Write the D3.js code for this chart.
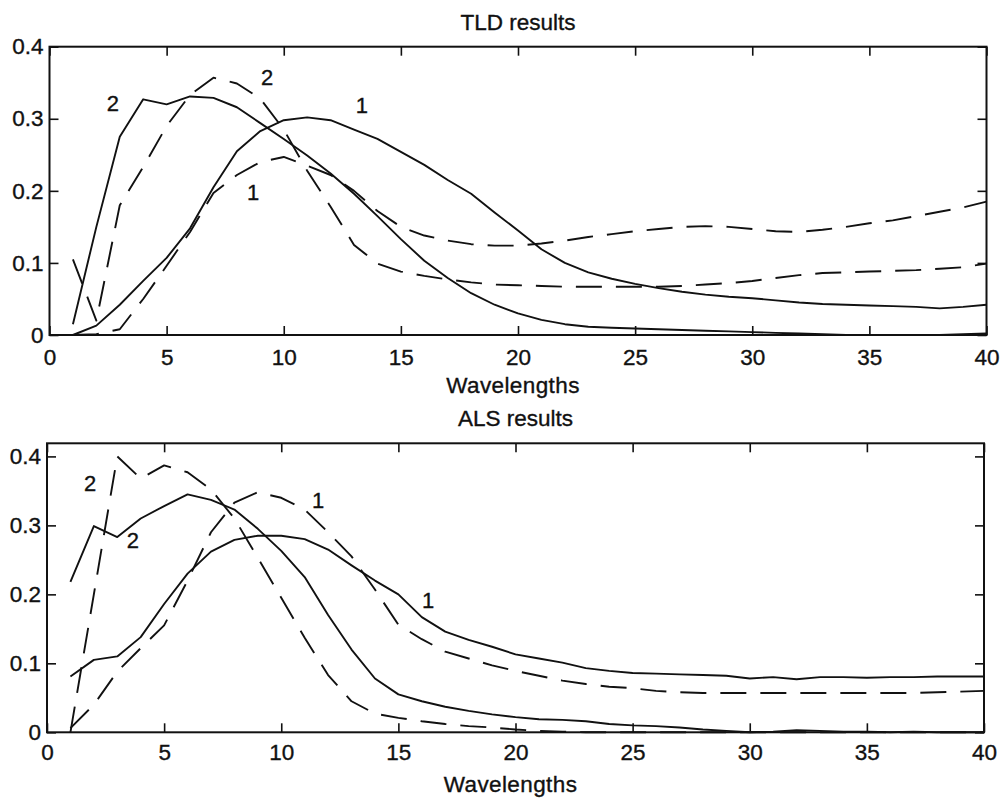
<!DOCTYPE html>
<html>
<head>
<meta charset="utf-8">
<script src="https://cdn.jsdelivr.net/npm/d3@7"></script>
<style>
  html, body { margin: 0; padding: 0; background: #fff; }
  svg { display: block; }
  text { font-family: "Liberation Sans", Arial, Helvetica, sans-serif; fill: #111; stroke: #111; stroke-width: 0.35px; }
  .tick line { stroke: #111; stroke-width: 1.6; }
  .tick text { font-size: 22.5px; }
</style>
</head>
<body>
<svg id="chart" width="1003" height="798"></svg>
<script>
// Wavelength samples shared by every curve
const wavelengths = [1, 2, 3, 4, 5, 6, 7, 8, 9, 10,
  11, 12, 13, 14, 15, 16, 17, 18, 19, 20,
  21, 22, 23, 24, 25, 26, 27, 28, 29, 30,
  31, 32, 33, 34, 35, 36, 37, 38, 39, 40];

const xTicks = [0, 5, 10, 15, 20, 25, 30, 35, 40];
const yTicks = [0, 0.1, 0.2, 0.3, 0.4];

// TLD results
const tldSolid1 = [0.0, 0.013, 0.042, 0.075, 0.107, 0.148, 0.205, 0.255, 0.283, 0.298,
  0.302, 0.298, 0.285, 0.272, 0.254, 0.236, 0.215, 0.196, 0.170, 0.145,
  0.119, 0.100, 0.087, 0.078, 0.071, 0.065, 0.060, 0.056, 0.053, 0.051,
  0.048, 0.045, 0.043, 0.042, 0.041, 0.040, 0.039, 0.037, 0.039, 0.042];
const tldDashed1 = [0.0, 0.001, 0.008, 0.050, 0.096, 0.143, 0.197, 0.222, 0.240, 0.247,
  0.235, 0.222, 0.200, 0.172, 0.150, 0.138, 0.131, 0.126, 0.124, 0.124,
  0.127, 0.131, 0.136, 0.140, 0.144, 0.147, 0.150, 0.151, 0.150, 0.147,
  0.144, 0.143, 0.146, 0.150, 0.155, 0.159, 0.165, 0.171, 0.177, 0.185];
const tldSolid2 = [0.015, 0.150, 0.275, 0.327, 0.320, 0.331, 0.329, 0.316, 0.294, 0.272,
  0.249, 0.224, 0.196, 0.165, 0.133, 0.103, 0.079, 0.058, 0.042, 0.030,
  0.021, 0.015, 0.0115, 0.010, 0.009, 0.008, 0.007, 0.006, 0.005, 0.004,
  0.003, 0.002, 0.001, 0.0, 0.0, 0.0, 0.0, 0.0, 0.001, 0.002];
const tldDashed2 = [0.105, 0.020, 0.180, 0.233, 0.290, 0.333, 0.357, 0.349, 0.328, 0.285,
  0.228, 0.178, 0.125, 0.099, 0.088, 0.082, 0.077, 0.073, 0.070, 0.069,
  0.068, 0.067, 0.067, 0.067, 0.067, 0.067, 0.068, 0.070, 0.072, 0.075,
  0.079, 0.083, 0.086, 0.087, 0.088, 0.089, 0.090, 0.092, 0.094, 0.099];

// ALS results
const alsSolid1 = [0.081, 0.105, 0.110, 0.138, 0.186, 0.230, 0.262, 0.279, 0.285, 0.285,
  0.280, 0.265, 0.242, 0.220, 0.200, 0.167, 0.146, 0.134, 0.124, 0.113,
  0.107, 0.101, 0.093, 0.089, 0.086, 0.085, 0.084, 0.083, 0.082, 0.078,
  0.080, 0.077, 0.080, 0.080, 0.079, 0.080, 0.080, 0.081, 0.081, 0.081];
const alsDashed1 = [0.006, 0.040, 0.088, 0.122, 0.155, 0.220, 0.290, 0.333, 0.348, 0.340,
  0.323, 0.290, 0.255, 0.207, 0.156, 0.135, 0.117, 0.107, 0.097, 0.089,
  0.082, 0.075, 0.070, 0.066, 0.064, 0.060, 0.058, 0.057, 0.057, 0.057,
  0.057, 0.057, 0.057, 0.057, 0.057, 0.057, 0.057, 0.058, 0.059, 0.060];
const alsSolid2 = [0.218, 0.299, 0.283, 0.310, 0.328, 0.345, 0.337, 0.323, 0.295, 0.263,
  0.225, 0.170, 0.120, 0.078, 0.055, 0.045, 0.037, 0.031, 0.026, 0.022,
  0.019, 0.018, 0.016, 0.012, 0.010, 0.009, 0.007, 0.004, 0.002, 0.0,
  0.001, 0.003, 0.002, 0.001, 0.001, 0.0, 0.001, 0.0, 0.0, 0.0];
const alsDashed2 = [0.0, 0.200, 0.400, 0.368, 0.387, 0.377, 0.352, 0.310, 0.253, 0.195,
  0.137, 0.083, 0.045, 0.027, 0.021, 0.016, 0.012, 0.009, 0.007, 0.004,
  0.002, 0.001, 0.0, 0.0, 0.0, 0.0, 0.0, 0.0, 0.0, 0.0,
  0.0, 0.0, 0.0, 0.0, 0.0, 0.0, 0.0, 0.0, 0.0, 0.0];

const svg = d3.select("#chart");

function drawPanel(opts) {
  const { left, right, top, bottom, yMax, title, titleY, xLabelY, series, labels, xPad } = opts;
  const x = d3.scaleLinear().domain([0, 40]).range([left, right]);
  const y = d3.scaleLinear().domain([0, yMax]).range([bottom, top]);
  const g = svg.append("g");

  const fmt = v => (v === 0 ? "0" : d3.format(".1f")(v));
  const tick = 9;

  g.append("g").attr("transform", `translate(0,${bottom})`)
    .call(d3.axisBottom(x).tickValues(xTicks).tickSizeInner(-tick).tickSizeOuter(0).tickPadding(xPad).tickFormat(d3.format("d")))
    .call(a => a.select(".domain").remove());
  g.append("g").attr("transform", `translate(0,${top})`)
    .call(d3.axisTop(x).tickValues(xTicks).tickSizeInner(-tick).tickSizeOuter(0).tickFormat(""))
    .call(a => a.select(".domain").remove());
  g.append("g").attr("transform", `translate(${left},0)`)
    .call(d3.axisLeft(y).tickValues(yTicks).tickSizeInner(-tick).tickSizeOuter(0).tickPadding(6).tickFormat(fmt))
    .call(a => a.select(".domain").remove());
  g.append("g").attr("transform", `translate(${right},0)`)
    .call(d3.axisRight(y).tickValues(yTicks).tickSizeInner(-tick).tickSizeOuter(0).tickFormat(""))
    .call(a => a.select(".domain").remove());

  g.selectAll(".tick text").attr("fill", "#111");

  // axes box
  g.append("rect")
    .attr("x", left).attr("y", top)
    .attr("width", right - left).attr("height", bottom - top)
    .attr("fill", "none").attr("stroke", "#111").attr("stroke-width", 2);

  const line = d3.line()
    .x((d, i) => x(wavelengths[i]))
    .y(d => y(d));

  series.forEach(s => {
    g.append("path")
      .datum(s.values)
      .attr("d", line)
      .attr("fill", "none")
      .attr("stroke", "#111")
      .attr("stroke-width", 1.9)
      .attr("stroke-linejoin", "round")
      .attr("stroke-dasharray", s.dashed ? "26,14" : null);
  });

  labels.forEach(l => {
    g.append("text")
      .attr("x", x(l.x)).attr("y", y(l.y))
      .attr("text-anchor", "middle")
      .attr("dy", "0.35em")
      .attr("font-size", 22)
      .text(l.text);
  });

  g.append("text")
    .attr("x", (left + right) / 2).attr("y", titleY)
    .attr("text-anchor", "middle")
    .attr("font-size", 22.5)
    .text(title);

  g.append("text")
    .attr("x", (left + right) / 2 - 5).attr("y", xLabelY)
    .attr("text-anchor", "middle")
    .attr("font-size", 22.5)
    .attr("letter-spacing", "0.4px")
    .text("Wavelengths");
}

drawPanel({
  left: 49.5, right: 986.5, top: 46.7, bottom: 335, yMax: 0.4,
  title: "TLD results", titleY: 30, xLabelY: 393, xPad: 14,
  series: [
    { values: tldSolid1, dashed: false },
    { values: tldDashed1, dashed: true },
    { values: tldSolid2, dashed: false },
    { values: tldDashed2, dashed: true }
  ],
  labels: [
    { text: "2", x: 2.71, y: 0.322 },
    { text: "2", x: 9.29, y: 0.358 },
    { text: "1", x: 13.34, y: 0.319 },
    { text: "1", x: 8.69, y: 0.198 }
  ]
});

drawPanel({
  left: 47, right: 984, top: 443.3, bottom: 732.3, yMax: 0.419,
  title: "ALS results", titleY: 426, xLabelY: 792, xPad: 12,
  series: [
    { values: alsSolid1, dashed: false },
    { values: alsDashed1, dashed: true },
    { values: alsSolid2, dashed: false },
    { values: alsDashed2, dashed: true }
  ],
  labels: [
    { text: "2", x: 1.84, y: 0.361 },
    { text: "2", x: 3.67, y: 0.279 },
    { text: "1", x: 11.57, y: 0.337 },
    { text: "1", x: 16.27, y: 0.192 }
  ]
});
</script>
</body>
</html>
